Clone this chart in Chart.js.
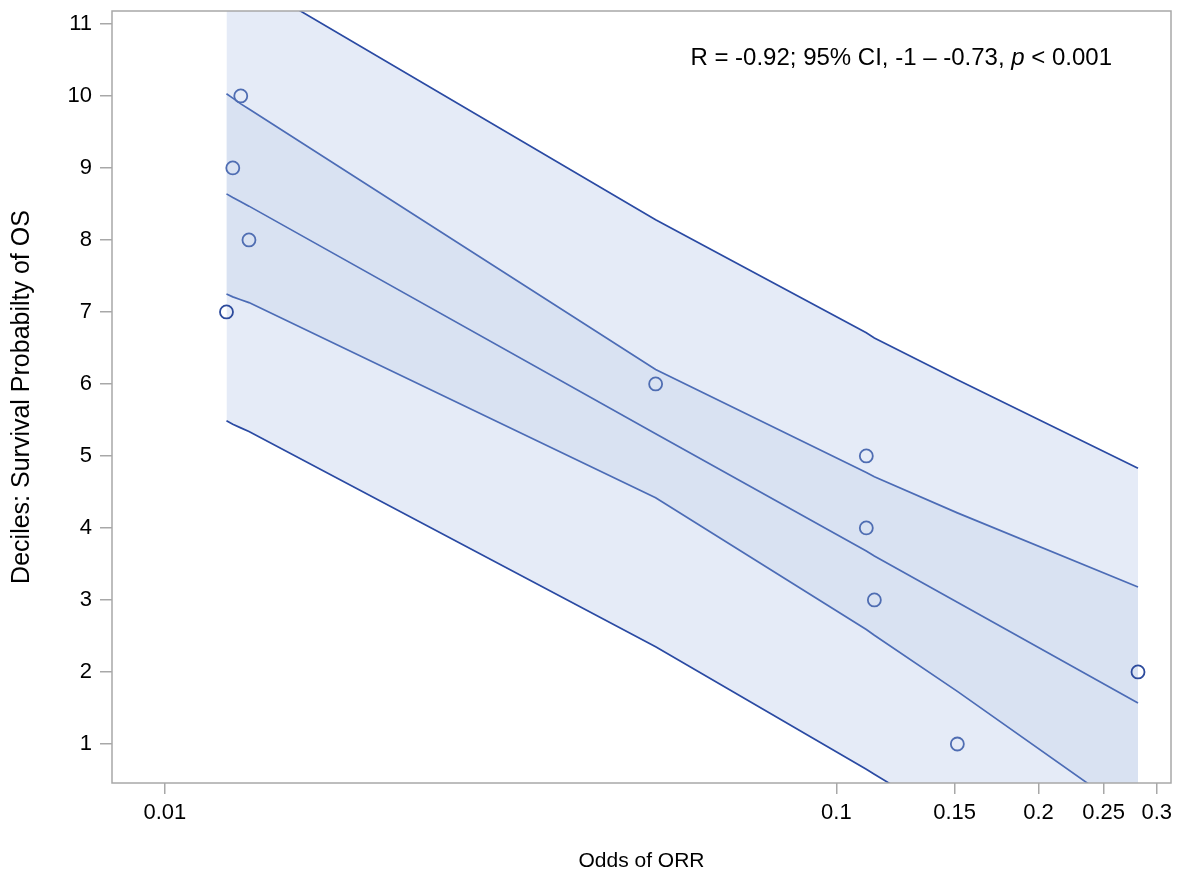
<!DOCTYPE html>
<html>
<head>
<meta charset="utf-8">
<script src="https://cdn.jsdelivr.net/npm/chart.js@4.4.1/dist/chart.umd.min.js"></script>
<style>
  html, body { margin: 0; padding: 0; background: #fff; }
</style>
</head>
<body>
<canvas id="chart" width="1187" height="880"></canvas>
<script>
// observed deciles vs odds of ORR
const deciles = [10, 9, 8, 7, 6, 5, 4, 3, 1, 2];
const oddsORR = [0.01297, 0.01262, 0.01334, 0.01235, 0.0538, 0.1108, 0.1108, 0.1139, 0.1514, 0.2813];

// regression fit, confidence limits and prediction limits
const fitX    = [0.01235, 0.01262, 0.01297, 0.01334, 0.0538, 0.1108, 0.1139, 0.1514, 0.2813];
const fitLine = [8.64, 8.59, 8.53, 8.47, 5.31, 3.68, 3.61, 2.97, 1.57];
const clUpper = [10.03, 9.97, 9.89, 9.82, 6.20, 4.77, 4.71, 4.21, 3.18];
const clLower = [7.25, 7.21, 7.17, 7.13, 4.42, 2.59, 2.51, 1.73, -0.04];
const plUpper = [11.79, 11.74, 11.67, 11.60, 8.28, 6.71, 6.64, 6.06, 4.83];
const plLower = [5.49, 5.44, 5.39, 5.34, 2.35, 0.65, 0.58, -0.12, -1.69];

const xTicks = [0.01, 0.1, 0.15, 0.2, 0.25, 0.3];
const yTicks = [1, 2, 3, 4, 5, 6, 7, 8, 9, 10, 11];

const statParts = [
    { text: "R = -0.92; 95% CI, -1 \u2013 -0.73, ", italic: false },
    { text: "p", italic: true },
    { text: " < 0.001", italic: false },
];

const FONT = "'Liberation Sans', Arial, Helvetica, sans-serif";
const axisGrey = "#a8a8a8";

const toXY = (xs, ys) => xs.map((x, i) => ({ x: x, y: ys[i] }));

const bandLine = (label, ys, color, fill, bg) => ({
    type: "line",
    label: label,
    data: toXY(fitX, ys),
    borderColor: color,
    borderWidth: 1.7,
    pointRadius: 0,
    tension: 0,
    fill: fill,
    backgroundColor: bg,
});

// markers sitting on the band edges look darker in the original
const markerColor = (c) => {
    const x = c.raw ? c.raw.x : null;
    return (x === fitX[0] || x === fitX[fitX.length - 1]) ? "#2c4a9c" : "#4f6db2";
};

const framePlugin = {
    id: "frame",
    afterDatasetsDraw(chart) {
        const { ctx, chartArea: a } = chart;
        ctx.save();
        ctx.strokeStyle = axisGrey;
        ctx.lineWidth = 1.5;
        ctx.strokeRect(a.left, a.top, a.right - a.left, a.bottom - a.top);

        // statistics inset, right aligned in the upper right corner
        ctx.fillStyle = "#000";
        ctx.textBaseline = "alphabetic";
        const fonts = statParts.map(p => (p.italic ? "italic " : "") + "24px " + FONT);
        let total = 0;
        statParts.forEach((p, i) => { ctx.font = fonts[i]; total += ctx.measureText(p.text).width; });
        let x = a.right - 59 - total;
        const y = a.top + 54;
        statParts.forEach((p, i) => {
            ctx.font = fonts[i];
            ctx.fillText(p.text, x, y);
            x += ctx.measureText(p.text).width;
        });
        ctx.restore();
    },
};

const config = {
    type: "scatter",
    data: {
        datasets: [
            {
                label: "Deciles",
                data: toXY(oddsORR, deciles),
                pointStyle: "circle",
                pointRadius: 6.5,
                pointBorderWidth: 1.8,
                borderColor: markerColor,
                pointBorderColor: markerColor,
                backgroundColor: "rgba(0,0,0,0)",
                pointBackgroundColor: "rgba(0,0,0,0)",
            },
            bandLine("Fit", fitLine, "#4c6cb6", false, "transparent"),
            bandLine("95% CL upper", clUpper, "#4c6cb6", "+1", "#d9e2f2"),
            bandLine("95% CL lower", clLower, "#4c6cb6", false, "transparent"),
            bandLine("95% PL upper", plUpper, "#2a4aa3", "+1", "#e5ebf7"),
            bandLine("95% PL lower", plLower, "#2a4aa3", false, "transparent"),
        ],
    },
    options: {
        responsive: false,
        animation: false,
        layout: { padding: { top: 11, right: 16, left: 0, bottom: 0 } },
        plugins: {
            legend: { display: false },
            tooltip: { enabled: false },
            filler: { drawTime: "beforeDatasetsDraw" },
        },
        scales: {
            x: {
                type: "logarithmic",
                min: 0.00834,
                max: 0.315,
                bounds: "data",
                afterBuildTicks: (scale) => { scale.ticks = xTicks.map(v => ({ value: v })); },
                afterFit: (scale) => {
                    scale.height = 97;
                    scale.paddingLeft = 0;
                    scale.paddingRight = 0;
                },
                ticks: {
                    autoSkip: false,
                    maxRotation: 0,
                    padding: 6,
                    color: "#000",
                    font: { family: FONT, size: 22 },
                    callback: (v) => String(v),
                },
                grid: { drawOnChartArea: false, tickLength: 11, color: axisGrey, lineWidth: 1.5 },
                border: { display: false },
                title: {
                    display: true,
                    text: "Odds of ORR",
                    color: "#000",
                    font: { family: FONT, size: 21 },
                    padding: { top: 0, bottom: 6 },
                },
            },
            y: {
                type: "linear",
                min: 0.458,
                max: 11.18,
                afterBuildTicks: (scale) => { scale.ticks = yTicks.map(v => ({ value: v })); },
                afterFit: (scale) => {
                    scale.width = 112;
                    scale.paddingTop = 0;
                    scale.paddingBottom = 0;
                },
                ticks: {
                    padding: 8,
                    color: "#000",
                    font: { family: FONT, size: 22 },
                },
                grid: { drawOnChartArea: false, tickLength: 12, color: axisGrey, lineWidth: 1.5 },
                border: { display: false },
                title: {
                    display: true,
                    text: "Deciles: Survival Probabilty of OS",
                    color: "#000",
                    font: { family: FONT, size: 25 },
                    padding: { top: 7, bottom: 0 },
                },
            },
        },
    },
    plugins: [framePlugin],
};

new Chart(document.getElementById("chart"), config);
</script>
</body>
</html>
